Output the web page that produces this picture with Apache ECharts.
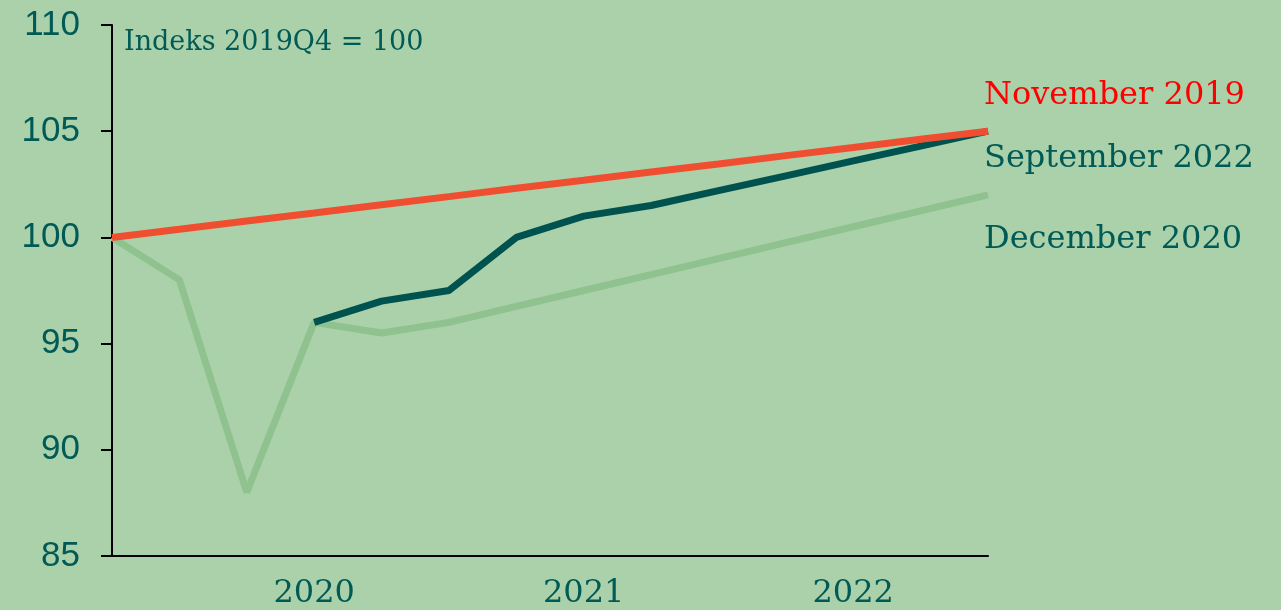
<!DOCTYPE html>
<html>
<head>
<meta charset="utf-8">
<script src="https://cdn.jsdelivr.net/npm/echarts@6/dist/echarts.min.js"></script>
<style>
  html, body { margin: 0; padding: 0; background: #abd1ab; }
  #chart { width: 1281px; height: 610px; }
</style>
</head>
<body>
<div id="chart"></div>
<script>
// quarters, 2019Q4 = 100
var quarters = ['2019Q4', '2020Q1', '2020Q2', '2020Q3', '2020Q4', '2021Q1', '2021Q2',
    '2021Q3', '2021Q4', '2022Q1', '2022Q2', '2022Q3', '2022Q4', '2023Q1'];
var yearLabels = ['', '', '', '2020', '', '', '', '2021', '', '', '', '2022', '', ''];

var nov2019 = [100, 100.38, 100.77, 101.15, 101.54, 101.92, 102.31, 102.69, 103.08, 103.46, 103.85, 104.23, 104.62, 105];
var sep2022 = [null, null, null, 96, 97, 97.5, 100, 101, 101.5, 102.2, 102.9, 103.6, 104.3, 105];
var dec2020 = [100, 98, 88, 96, 95.5, 96, 96.75, 97.5, 98.25, 99, 99.75, 100.5, 101.25, 102];

var textColor = '#005a55';
var serif = 'DejaVu Serif';

var chart = echarts.init(document.getElementById('chart'));

var option = {
    backgroundColor: '#abd1ab',
    animation: false,
    grid: { left: 112, right: 293, top: 25, bottom: 53 },
    xAxis: {
        type: 'category',
        data: quarters,
        boundaryGap: false,
        axisLine: { lineStyle: { color: '#000', width: 2 } },
        axisTick: { show: false },
        splitLine: { show: false },
        axisLabel: {
            interval: 0,
            margin: 22,
            color: textColor,
            fontFamily: serif,
            fontSize: 32,
            formatter: function (v, i) { return yearLabels[i]; }
        }
    },
    yAxis: {
        type: 'value',
        min: 85,
        max: 110,
        interval: 5,
        axisLine: { show: true, lineStyle: { color: '#000', width: 2 } },
        axisTick: { show: true, length: 11, lineStyle: { color: '#000', width: 2 } },
        splitLine: { show: false },
        axisLabel: {
            margin: 32,
            color: textColor,
            fontFamily: 'Liberation Sans',
            fontSize: 35
        }
    },
    series: [
        {
            name: 'December 2020',
            type: 'line',
            data: dec2020,
            symbol: 'none',
            lineStyle: { color: '#8fc28e', width: 7 },
            z: 2
        },
        {
            name: 'September 2022',
            type: 'line',
            data: sep2022,
            symbol: 'none',
            lineStyle: { color: '#00524f', width: 7 },
            z: 3
        },
        {
            name: 'November 2019',
            type: 'line',
            data: nov2019,
            symbol: 'none',
            lineStyle: { color: '#f04e30', width: 7 },
            z: 4
        }
    ],
    graphic: [
        { type: 'text', x: 124, y: 43, style: { text: 'Indeks 2019Q4 = 100', fill: textColor, font: '27px "DejaVu Serif"', verticalAlign: 'middle' } },
        { type: 'text', x: 984, y: 96, style: { text: 'November 2019', fill: '#ff0000', font: '32px "DejaVu Serif"', verticalAlign: 'middle' } },
        { type: 'text', x: 984, y: 159, style: { text: 'September 2022', fill: textColor, font: '32px "DejaVu Serif"', verticalAlign: 'middle' } },
        { type: 'text', x: 984, y: 240, style: { text: 'December 2020', fill: textColor, font: '32px "DejaVu Serif"', verticalAlign: 'middle' } }
    ]
};

chart.setOption(option);
</script>
</body>
</html>
